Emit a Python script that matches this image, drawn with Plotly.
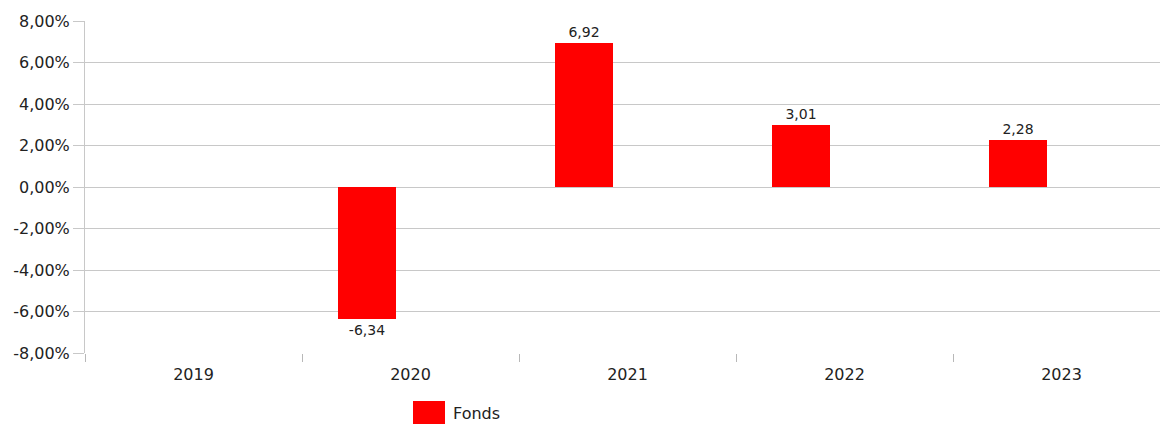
import plotly.graph_objects as go

years = ["2019", "2020", "2021", "2022", "2023"]
fonds = [None, -6.34, 6.92, 3.01, 2.28]
bar_labels = ["", "-6,34", "6,92", "3,01", "2,28"]
y_tickvals = [-8, -6, -4, -2, 0, 2, 4, 6, 8]
y_ticktext = ["-8,00%", "-6,00%", "-4,00%", "-2,00%", "0,00%", "2,00%", "4,00%", "6,00%", "8,00%"]
series_name = "Fonds"

W, H = 1160, 424
ml, mr, mt, mb = 85, 0, 21, 71
plot_w = W - ml - mr
plot_h = H - mt - mb
cat_px = 217.0

fig = go.Figure()
fig.add_trace(go.Bar(
    x=years, y=fonds, name=series_name,
    marker=dict(color="#ff0000", line=dict(width=0)),
    width=58 / cat_px, offset=-0.333,
    text=bar_labels, textposition="outside", cliponaxis=False,
    textfont=dict(family="DejaVu Sans", size=14, color="#222222"),
    showlegend=False,
))

def px_x(p):
    return (p - ml) / plot_w

def px_y(p):
    return (H - mb - p) / plot_h

fig.add_shape(type="rect", xref="paper", yref="paper",
              x0=px_x(413), x1=px_x(445), y0=px_y(426), y1=px_y(401),
              fillcolor="#ff0000", line=dict(width=0))
fig.add_annotation(text=series_name, xref="paper", yref="paper",
                   x=px_x(451), y=px_y(413), xanchor="left", yanchor="middle",
                   showarrow=False,
                   font=dict(family="DejaVu Sans", size=16, color="#222222"))

fig.update_layout(
    width=W, height=H,
    margin=dict(l=ml, r=mr, t=mt, b=mb, pad=0),
    plot_bgcolor="white", paper_bgcolor="white",
    font=dict(family="DejaVu Sans", size=16, color="#222222"),
    bargap=0,
    xaxis=dict(
        type="category",
        range=[-0.5, -0.5 + plot_w / cat_px],
        tickson="boundaries", ticks="outside", ticklen=8, tickcolor="#b8b8b8",
        tickwidth=1, ticklabelstandoff=10,
        showgrid=False, showline=False, zeroline=False,
        tickfont=dict(family="DejaVu Sans", size=16, color="#222222"),
    ),
    yaxis=dict(
        range=[-8, 8],
        tickvals=y_tickvals, ticktext=y_ticktext,
        ticks="outside", ticklen=11, tickcolor="#c8c8c8", tickwidth=1,
        showgrid=True, gridcolor="#c8c8c8", gridwidth=1,
        showline=True, linecolor="#c8c8c8", linewidth=1,
        zeroline=False,
        tickfont=dict(family="DejaVu Sans", size=16, color="#222222"),
    ),
)

fig.write_html("out.html")
